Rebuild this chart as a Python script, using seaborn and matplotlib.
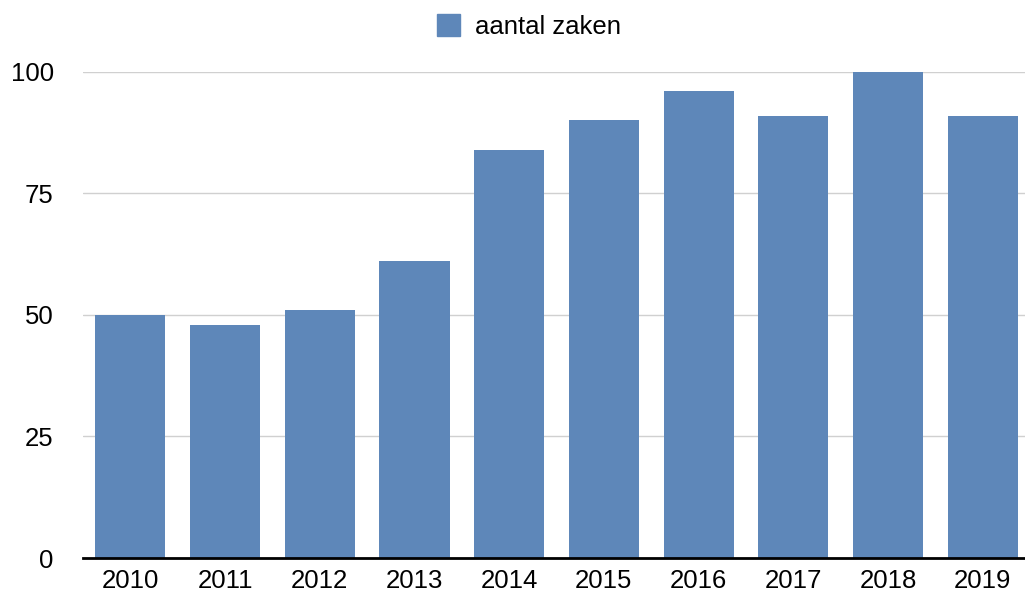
import matplotlib
matplotlib.use('Agg')
import matplotlib.pyplot as plt
import seaborn as sns
import pandas as pd
from matplotlib.patches import Patch

jaren = ['2010', '2011', '2012', '2013', '2014', '2015', '2016', '2017', '2018', '2019']
aantal_zaken = [50, 48, 51, 61, 84, 90, 96, 91, 100, 91]

data = pd.DataFrame({'jaar': jaren, 'aantal': aantal_zaken})

sns.set_style('white')
plt.rcParams['font.family'] = ['Liberation Sans', 'DejaVu Sans']

kleur = '#5E87B9'

fig = plt.figure(figsize=(10.25, 5.93), dpi=100)
ax = fig.add_axes([0.081, 0.059, 0.924, 0.82])
sns.barplot(data=data, x='jaar', y='aantal', color=kleur, saturation=1, width=0.74,
            linewidth=0, ax=ax)

ax.set_ylim(0, 100)
ax.set_yticks([0, 25, 50, 75, 100])
ax.set_xlim(-0.5, 9.5)
ax.yaxis.grid(True, color='#d0d0d0', linewidth=1)
ax.set_axisbelow(True)
for s in ['top', 'right', 'left']:
    ax.spines[s].set_visible(False)
ax.spines['bottom'].set_color('black')
ax.spines['bottom'].set_linewidth(2)
ax.tick_params(axis='both', length=0, labelsize=18.5, colors='black')
ax.tick_params(axis='y', pad=21)
ax.tick_params(axis='x', pad=8)
ax.set_xlabel('')
ax.set_ylabel('')

fig.legend(handles=[Patch(color=kleur, label='aantal zaken')], loc='upper center',
           bbox_to_anchor=(0.516, 1.015), frameon=False, fontsize=18.5, labelcolor='black',
           handlelength=0.9, handleheight=0.9, handletextpad=0.6)

fig.savefig('out.png', dpi=100)
